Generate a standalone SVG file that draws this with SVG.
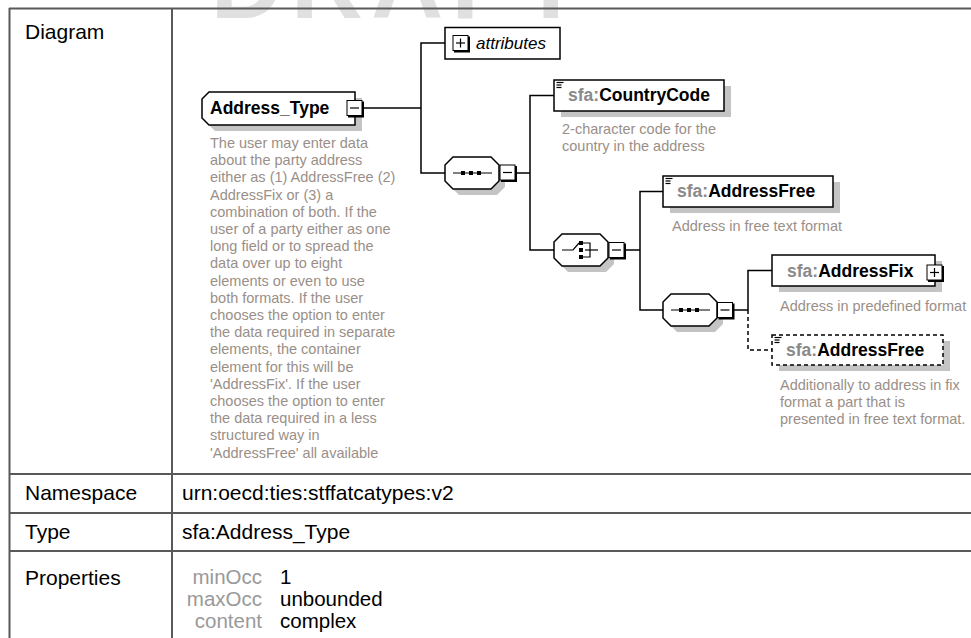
<svg xmlns="http://www.w3.org/2000/svg" width="971" height="638" viewBox="0 0 971 638">
<style>
.lbl{font-family:"Liberation Sans",Arial,sans-serif;font-size:21px;fill:#000}
.pl{font-family:"Liberation Sans",Arial,sans-serif;font-size:20.5px;fill:#999;text-anchor:end}
.pv{font-family:"Liberation Sans",Arial,sans-serif;font-size:20.5px;fill:#000}
.desc{font-family:"Liberation Sans",Arial,sans-serif;font-size:14.5px;fill:#9a8f88}
.en{font-family:"Liberation Sans",Arial,sans-serif;font-size:17.5px;font-weight:bold;fill:#000}
.pfx{fill:#8a8a8a}
.box{fill:#fff;stroke:#000;stroke-width:1.5}
.dbox{fill:#fff;stroke:#000;stroke-width:1.5;stroke-dasharray:4 3}
.sh{fill:#c4c4c4}
.conn{fill:none;stroke:#000;stroke-width:1.5}
.dash{stroke-dasharray:4 3}
.tl{stroke:#595959;stroke-width:2;fill:none}
.pm{fill:#fff;stroke:#000;stroke-width:1}
.pms{fill:none;stroke:#000;stroke-width:2}
.ic{stroke:#000;stroke-width:1.2;fill:none}
</style>
<defs>
<g id="minus"><rect class="pm" x="0" y="0" width="15" height="15"/><polyline class="pms" points="16,1 16,16 1,16"/><line class="ic" x1="3" y1="7.5" x2="12" y2="7.5"/></g>
<g id="plus"><rect class="pm" x="0" y="0" width="15" height="15"/><polyline class="pms" points="16,1 16,16 1,16"/><line class="ic" x1="3" y1="7.5" x2="12" y2="7.5"/><line class="ic" x1="7.5" y1="3" x2="7.5" y2="12"/></g>
<g id="doc"><line class="ic" x1="0" y1="0.5" x2="7" y2="0.5"/><line class="ic" x1="0" y1="3" x2="5" y2="3"/><line class="ic" x1="0" y1="5.5" x2="5" y2="5.5"/></g>
</defs>
<text x="400" y="18" text-anchor="middle" font-family="Liberation Sans,Arial,sans-serif" font-size="100" font-weight="bold" letter-spacing="8" fill="#e0e0e0">DRAFT</text>
<g id="table">
<line class="tl" x1="9" y1="8.5" x2="971" y2="8.5"/>
<line class="tl" x1="9.5" y1="8" x2="9.5" y2="638"/>
<line class="tl" x1="172" y1="8" x2="172" y2="638"/>
<line class="tl" x1="9" y1="474" x2="971" y2="474"/>
<line class="tl" x1="9" y1="513" x2="971" y2="513"/>
<line class="tl" x1="9" y1="551" x2="971" y2="551"/>
<text class="lbl" x="25" y="39">Diagram</text>
<text class="lbl" x="25" y="500">Namespace</text>
<text class="lbl" x="182" y="500">urn:oecd:ties:stffatcatypes:v2</text>
<text class="lbl" x="25" y="539">Type</text>
<text class="lbl" x="182" y="539">sfa:Address_Type</text>
<text class="lbl" x="25" y="585">Properties</text>
<text class="pl" x="262" y="584">minOcc</text><text class="pv" x="280" y="584">1</text>
<text class="pl" x="262" y="606">maxOcc</text><text class="pv" x="280" y="606">unbounded</text>
<text class="pl" x="262" y="628">content</text><text class="pv" x="280" y="628">complex</text>
</g>
<g id="connectors">
<polyline class="conn" points="363,108 421,108"/>
<polyline class="conn" points="445,43 421,43 421,173 445,173"/>
<polyline class="conn" points="516,173 530,173"/>
<polyline class="conn" points="554,95.5 530,95.5 530,250 554,250"/>
<polyline class="conn" points="625,250 640,250"/>
<polyline class="conn" points="663,191.5 640,191.5 640,310 663,310"/>
<polyline class="conn" points="733,310 748,310"/>
<polyline class="conn" points="772,270.5 748,270.5 748,310"/>
<polyline class="conn dash" points="748,310 748,350 772,350"/>
</g>
<g id="address_type">
<polygon class="sh" points="215,98 362,98 362,131 215,131 208,124 208,105"/>
<polygon class="box" points="209,92 355,92 355,125 209,125 202,118 202,99"/>
<text class="en" x="210" y="114">Address_Type</text>
<use href="#minus" x="347" y="100.5"/>
<text class="desc" x="210"><tspan x="210" y="148">The user may enter data</tspan><tspan x="210" y="165.2">about the party address</tspan><tspan x="210" y="182.4">either as (1) AddressFree (2)</tspan><tspan x="210" y="199.6">AddressFix or (3) a</tspan><tspan x="210" y="216.8">combination of both. If the</tspan><tspan x="210" y="234">user of a party either as one</tspan><tspan x="210" y="251.2">long field or to spread the</tspan><tspan x="210" y="268.4">data over up to eight</tspan><tspan x="210" y="285.6">elements or even to use</tspan><tspan x="210" y="302.8">both formats. If the user</tspan><tspan x="210" y="320">chooses the option to enter</tspan><tspan x="210" y="337.2">the data required in separate</tspan><tspan x="210" y="354.4">elements, the container</tspan><tspan x="210" y="371.6">element for this will be</tspan><tspan x="210" y="388.8">'AddressFix'. If the user</tspan><tspan x="210" y="406">chooses the option to enter</tspan><tspan x="210" y="423.2">the data required in a less</tspan><tspan x="210" y="440.4">structured way in</tspan><tspan x="210" y="457.6">'AddressFree' all available</tspan></text>
</g>
<g id="attributes">
<rect class="box" x="445" y="27.5" width="115" height="31.5"/>
<use href="#plus" x="453" y="35.5"/>
<text x="476" y="49" font-family="Liberation Sans,Arial,sans-serif" font-size="17px" font-style="italic">attributes</text>
</g>
<g id="sequence1">
<polygon class="sh" points="459,163 497,163 505,171 505,187 497,195 459,195 451,187 451,171"/>
<polygon class="box" points="453,157 491,157 499,165 499,181 491,189 453,189 445,181 445,165"/>
<line class="ic" x1="453" y1="173" x2="492" y2="173"/>
<rect x="461" y="171" width="4" height="4"/><rect x="469" y="171" width="4" height="4"/><rect x="477" y="171" width="4" height="4"/>
<use href="#minus" x="500" y="165"/>
</g>
<g id="countrycode">
<rect class="sh" x="561" y="86" width="170" height="31"/>
<rect class="box" x="554" y="80" width="170" height="31"/>
<use href="#doc" x="556.5" y="82"/>
<text class="en" x="568" y="101"><tspan class="pfx">sfa:</tspan>CountryCode</text>
<text class="desc"><tspan x="562" y="134">2-character code for the</tspan><tspan x="562" y="151">country in the address</tspan></text>
</g>
<g id="choice">
<polygon class="sh" points="568,240 606,240 614,248 614,264 606,272 568,272 560,264 560,248"/>
<polygon class="box" points="562,234 600,234 608,242 608,258 600,266 562,266 554,258 554,242"/>
<polyline class="ic" points="562,250 573,250 579,243"/>
<rect x="579" y="241" width="4" height="4"/><rect x="579" y="248" width="4" height="4"/><rect x="579" y="255" width="4" height="4"/>
<polyline class="ic" points="583,243 590,243 590,257 583,257"/>
<line class="ic" x1="585" y1="250" x2="598" y2="250"/>
<use href="#minus" x="609" y="242.5"/>
</g>
<g id="addressfree">
<rect class="sh" x="670" y="182" width="170" height="31"/>
<rect class="box" x="663" y="176" width="170" height="31"/>
<use href="#doc" x="665.5" y="178"/>
<text class="en" x="677" y="197"><tspan class="pfx">sfa:</tspan>AddressFree</text>
<text class="desc" x="672" y="231">Address in free text format</text>
</g>
<g id="sequence2">
<polygon class="sh" points="677,300 715,300 723,308 723,324 715,332 677,332 669,324 669,308"/>
<polygon class="box" points="671,294 709,294 717,302 717,318 709,326 671,326 663,318 663,302"/>
<line class="ic" x1="671" y1="310" x2="710" y2="310"/>
<rect x="679" y="308" width="4" height="4"/><rect x="687" y="308" width="4" height="4"/><rect x="695" y="308" width="4" height="4"/>
<use href="#minus" x="717.5" y="302.5"/>
</g>
<g id="addressfix">
<rect class="sh" x="779" y="261" width="163" height="31"/>
<rect class="box" x="772" y="255" width="163" height="31"/>
<text class="en" x="787" y="277"><tspan class="pfx">sfa:</tspan>AddressFix</text>
<use href="#plus" x="927" y="265"/>
<text class="desc" x="780" y="311">Address in predefined format</text>
</g>
<g id="addressfree2">
<rect class="sh" x="779" y="341" width="171" height="30"/>
<rect class="dbox" x="772" y="335" width="171" height="30"/>
<use href="#doc" x="774.5" y="337"/>
<text class="en" x="786" y="356"><tspan class="pfx">sfa:</tspan>AddressFree</text>
<text class="desc"><tspan x="780" y="390">Additionally to address in fix</tspan><tspan x="780" y="407">format a part that is</tspan><tspan x="780" y="424">presented in free text format.</tspan></text>
</g>
</svg>
